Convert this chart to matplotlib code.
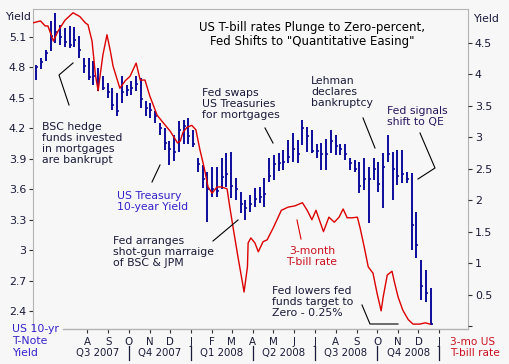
import numpy as np
import matplotlib
matplotlib.use("Agg")
import matplotlib.pyplot as plt
from matplotlib.lines import Line2D

plt.rcParams['font.family'] = ['DejaVu Sans']

# weekly 10-yr T-note bars (high / low / close)
bar_dates = np.arange(np.datetime64('2007-05-18'), np.datetime64('2008-12-20'), np.timedelta64(7, 'D'))
note_high = [4.82, 4.89, 4.97, 5.26, 5.34, 5.22, 5.19, 5.21, 5.20, 5.11,
             4.89, 4.89, 4.86, 4.79, 4.72, 4.65, 4.60, 4.55, 4.72, 4.63,
             4.67, 4.72, 4.70, 4.47, 4.45, 4.37, 4.25, 4.20, 4.08, 4.13,
             4.27, 4.28, 4.30, 4.18, 3.91, 3.84, 3.77, 3.82, 3.82, 3.91,
             3.96, 3.97, 3.71, 3.57, 3.49, 3.54, 3.61, 3.62, 3.71, 3.91,
             3.94, 3.96, 3.99, 4.09, 4.15, 4.09, 4.28, 4.21, 4.18, 4.05,
             4.06, 4.10, 4.18, 4.13, 4.05, 4.05, 3.91, 3.89, 3.87, 3.91,
             3.82, 3.91, 3.87, 3.96, 4.13, 3.97, 3.99, 3.99, 3.77, 3.76,
             3.38, 2.90, 2.80, 2.63]
note_low = [4.68, 4.78, 4.86, 4.96, 5.04, 5.02, 5.00, 4.99, 5.00, 4.89,
            4.75, 4.68, 4.63, 4.57, 4.58, 4.50, 4.38, 4.32, 4.45, 4.52,
            4.53, 4.57, 4.40, 4.32, 4.30, 4.25, 4.13, 3.99, 3.84, 3.88,
            3.97, 4.05, 4.05, 4.02, 3.77, 3.61, 3.28, 3.52, 3.52, 3.60,
            3.62, 3.51, 3.49, 3.37, 3.30, 3.38, 3.43, 3.46, 3.43, 3.67,
            3.69, 3.78, 3.79, 3.86, 3.87, 3.86, 4.04, 3.97, 3.96, 3.91,
            3.79, 3.79, 3.96, 3.94, 3.94, 3.89, 3.79, 3.77, 3.56, 3.59,
            3.27, 3.69, 3.57, 3.42, 3.87, 3.49, 3.64, 3.66, 3.66, 3.00,
            2.92, 2.51, 2.49, 2.26]
note_close = [4.80, 4.85, 4.94, 5.11, 5.15, 5.10, 5.05, 5.02, 5.07, 4.97,
              4.81, 4.71, 4.72, 4.68, 4.60, 4.56, 4.43, 4.37, 4.56, 4.58,
              4.60, 4.64, 4.49, 4.40, 4.38, 4.32, 4.20, 4.06, 4.00, 3.97,
              4.18, 4.22, 4.12, 4.05, 3.85, 3.70, 3.60, 3.60, 3.58, 3.72,
              3.75, 3.63, 3.60, 3.45, 3.42, 3.45, 3.50, 3.52, 3.55, 3.73,
              3.85, 3.86, 3.87, 3.92, 4.00, 3.95, 4.20, 4.12, 3.98, 3.98,
              3.95, 3.95, 4.08, 4.03, 4.00, 3.95, 3.86, 3.80, 3.63, 3.70,
              3.70, 3.80, 3.65, 3.82, 3.95, 3.80, 3.73, 3.75, 3.70, 3.25,
              3.05, 2.65, 2.58, 2.27]

# 3-month T-bill rate
tbill_dates = np.array([
    '2007-05-13', '2007-05-24', '2007-05-31', '2007-06-04', '2007-06-12', '2007-06-19',
    '2007-06-29', '2007-07-11', '2007-07-21', '2007-07-29', '2007-08-02', '2007-08-08',
    '2007-08-13', '2007-08-17', '2007-08-20', '2007-08-24', '2007-08-30', '2007-09-04',
    '2007-09-08', '2007-09-18', '2007-09-26', '2007-10-03', '2007-10-12', '2007-10-18',
    '2007-10-25', '2007-11-01', '2007-11-12', '2007-11-21', '2007-12-01', '2007-12-12',
    '2007-12-16', '2007-12-20', '2007-12-26', '2008-01-02', '2008-01-08', '2008-01-14',
    '2008-01-20', '2008-01-26', '2008-02-01', '2008-02-08', '2008-02-15', '2008-02-23',
    '2008-02-27', '2008-03-04', '2008-03-10', '2008-03-16', '2008-03-19', '2008-03-24',
    '2008-03-25', '2008-03-29', '2008-04-04', '2008-04-09', '2008-04-16', '2008-04-22',
    '2008-05-01', '2008-05-13', '2008-05-23', '2008-06-02', '2008-06-13', '2008-06-20',
    '2008-06-27', '2008-07-03', '2008-07-14', '2008-07-22', '2008-07-30', '2008-08-06',
    '2008-08-12', '2008-08-18', '2008-08-25', '2008-09-02', '2008-09-06', '2008-09-12',
    '2008-09-18', '2008-09-25', '2008-10-01', '2008-10-07', '2008-10-10', '2008-10-16',
    '2008-10-23', '2008-10-27', '2008-11-01', '2008-11-08', '2008-11-16', '2008-11-23',
    '2008-12-03', '2008-12-11', '2008-12-18'], dtype='datetime64[D]')
tbill_rate = [4.82, 4.85, 4.77, 4.77, 4.53, 4.69,
              4.86, 4.98, 4.92, 4.82, 4.79, 4.53,
              3.99, 3.74, 3.99, 4.31, 4.63, 4.37,
              4.13, 3.78, 3.90, 3.97, 4.18, 3.91,
              3.91, 3.66, 3.35, 3.23, 3.10, 2.91,
              2.94, 3.08, 3.16, 3.19, 3.12, 2.80,
              2.53, 2.21, 2.11, 2.21, 2.21, 2.18,
              1.89, 1.49, 1.10, 0.73, 0.54, 0.94,
              1.32, 1.40, 1.32, 1.18, 1.34, 1.37,
              1.56, 1.84, 1.89, 1.91, 1.96, 1.84,
              1.69, 1.84, 1.50, 1.73, 1.65, 1.73,
              1.86, 1.72, 1.72, 1.73, 1.56, 1.26,
              0.94, 0.84, 0.52, 0.24, 0.46, 0.81,
              0.87, 0.68, 0.46, 0.25, 0.10, 0.03,
              0.03, 0.05, 0.03]

month_dates = np.array(['2007-08-01', '2007-09-01', '2007-10-01', '2007-11-01', '2007-12-01',
                        '2008-01-01', '2008-02-01', '2008-03-01', '2008-04-01', '2008-05-01',
                        '2008-06-01', '2008-07-01', '2008-08-01', '2008-09-01', '2008-10-01',
                        '2008-11-01', '2008-12-01', '2009-01-01'], dtype='datetime64[D]')
month_labels = ['A', 'S', 'O', 'N', 'D', 'J', 'F', 'M', 'A', 'M', 'J', 'J', 'A', 'S', 'O', 'N', 'D', 'J']
quarter_edges = np.array(['2007-07-01', '2007-10-01', '2008-01-01', '2008-04-01',
                          '2008-07-01', '2008-10-01', '2009-01-01'], dtype='datetime64[D]')
quarter_labels = ['Q3 2007', 'Q4 2007', 'Q1 2008', 'Q2 2008', 'Q3 2008', 'Q4 2008']

left_ticks = [5.1, 4.8, 4.5, 4.2, 3.9, 3.6, 3.3, 3.0, 2.7, 2.4]
left_labels = ['5.1', '4.8', '4.5', '4.2', '3.9', '3.6', '3.3', '3', '2.7', '2.4']
right_ticks = [0, 0.5, 1, 1.5, 2, 2.5, 3, 3.5, 4, 4.5]
right_labels = ['', '0.5', '1', '1.5', '2', '2.5', '3', '3.5', '4', '4.5']

W, H = 509, 364
bg = '#f7f7f7'
dark = '#1a1a3a'
blue = '#0c0c9c'
red = '#dd0000'
frame = '#b4b4b4'

fig = plt.figure(figsize=(W / 100, H / 100), dpi=100, facecolor=bg)
ax = fig.add_axes([33 / W, 1 - 329 / H, 435 / W, 320 / H])
ax.set_facecolor(bg)

ax.vlines(bar_dates, note_low, note_high, color=blue, lw=1.4)
ax.hlines(note_close, bar_dates, bar_dates + np.timedelta64(3, 'D'), color=blue, lw=1.2)
ax.set_ylim(2.223, 5.376)
ax.set_xlim(np.datetime64('2007-05-13'), np.datetime64('2009-02-12'))

ax.set_yticks(left_ticks)
ax.set_yticklabels(left_labels)
ax.set_xticks(month_dates)
ax.set_xticklabels(month_labels)
ax.tick_params(axis='y', direction='out', length=3, color='#333333', labelsize=7.9,
               labelcolor=dark, pad=2)
ax.tick_params(axis='x', direction='out', length=3, color='#333333', labelsize=7.4,
               labelcolor=dark, pad=3)
for s in ['left', 'top', 'right']:
    ax.spines[s].set_color(frame)
ax.spines['bottom'].set_visible(False)
ax.plot([30 / 435, 1], [0, 0], transform=ax.transAxes, color=frame, lw=1, clip_on=False)

ax2 = ax.twinx()
ax2.plot(tbill_dates, tbill_rate, color=red, lw=1.0)
ax2.set_ylim(-0.048, 5.04)
ax2.set_yticks(right_ticks)
ax2.set_yticklabels(right_labels)
ax2.tick_params(axis='y', direction='out', length=3, color='#333333', labelsize=7.9,
                labelcolor=dark, pad=2)
for s in ax2.spines.values():
    s.set_visible(False)

# quarter labels and separators under the month letters
xt = ax.get_xaxis_transform()
for i, q in enumerate(quarter_labels):
    mid = quarter_edges[i] + (quarter_edges[i + 1] - quarter_edges[i]) / 2
    ax.text(mid, -0.076, q, transform=xt, ha='center', va='center', fontsize=7.3, color=dark)
for d in quarter_edges[1:]:
    ax.plot([d, d], [-0.052, -0.098], transform=xt, color=dark, lw=0.9, clip_on=False)


def ftext(x, y, s, **kw):
    kw.setdefault('fontsize', 7.8)
    kw.setdefault('color', dark)
    kw.setdefault('va', 'center')
    kw.setdefault('linespacing', 1.15)
    fig.text(x / W, 1 - y / H, s, **kw)


def fline(xs, ys, color='black'):
    fig.add_artist(Line2D([x / W for x in xs], [1 - y / H for y in ys], color=color,
                          lw=0.8, transform=fig.transFigure))


ftext(312, 34.5, 'US T-bill rates Plunge to Zero-percent,\nFed Shifts to "Quantitative Easing"',
      ha='center', fontsize=8.5, color='black', linespacing=1.1)
ftext(5, 17, 'Yield', fontsize=7.8)
ftext(473, 19, 'Yield', fontsize=7.8)

ftext(42, 143.5, 'BSC hedge\nfunds invested\nin mortgages\nare bankrupt')
fline([73, 59, 69], [63, 75, 105])

ftext(117, 201.5, 'US Treasury\n10-year Yield', color='#3322cc')
fline([152, 160], [182, 165])

ftext(113, 252, 'Fed arranges\nshot-gun marraige\nof BSC & JPM')
fline([213, 238], [241, 220])

ftext(202, 104, 'Fed swaps\nUS Treasuries\nfor mortgages')
fline([265, 273], [128, 143])

ftext(311, 92, 'Lehman\ndeclares\nbankruptcy')
fline([363, 375], [118, 148])

ftext(387, 116.5, 'Fed signals\nshift to QE', color='#2a1660')
fline([420, 435, 418], [133, 168, 179])

ftext(312, 256.5, '3-month\nT-bill rate', ha='center', color='#cc1020')
fline([297, 301], [220, 239], color=red)

ftext(272, 302, 'Fed lowers fed\nfunds target to\nZero - 0.25%')
fline([362, 370, 398], [305, 324, 324])

ftext(12, 341, 'US 10-yr\nT-Note\nYield', color='#3322cc', linespacing=1.2)
ftext(450, 347.5, '3-mo US\nT-bill rate', color='#cc1020', linespacing=1.2, fontsize=7.6)

fig.savefig('out.png', dpi=100, facecolor=bg)
